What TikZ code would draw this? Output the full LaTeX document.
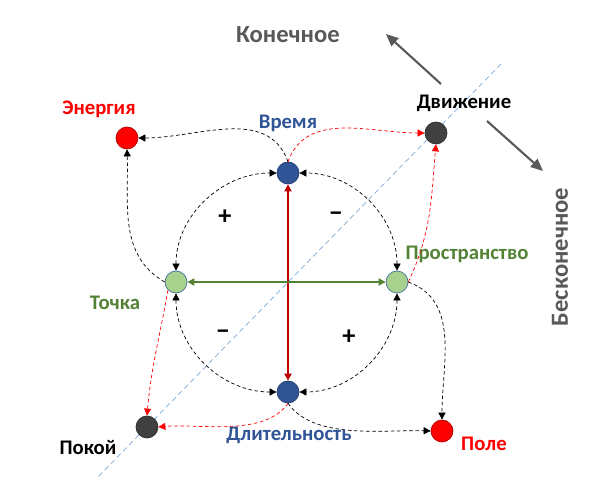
\documentclass[tikz,border=0pt]{standalone}
\usepackage{fontspec}
\setmainfont{Carlito}
\usetikzlibrary{arrows.meta}
\tikzset{>={Stealth[length=4pt,width=4pt,inset=0pt]}}
\definecolor{tblue}{HTML}{2F5597}
\definecolor{tgreen}{HTML}{548235}
\definecolor{lgreen}{HTML}{A9D18E}
\definecolor{edge}{HTML}{41719C}
\definecolor{dgray}{HTML}{404040}
\definecolor{tgray}{HTML}{595959}
\definecolor{dred}{HTML}{C00000}
\definecolor{diag}{HTML}{7FAAD6}

\begin{document}
\begin{tikzpicture}[x=0.02cm, y=-0.02cm,
    dot/.style={circle, minimum size=0.44cm, inner sep=0pt, draw=#1!70!black, thin, fill=#1},
    gdot/.style={circle, minimum size=0.44cm, inner sep=0pt, draw=edge, thin, fill=lgreen},
    lbl/.style={font=\bfseries\fontsize{11.8}{14}\selectfont},
    sign/.style={font=\bfseries\fontsize{15}{17}\selectfont},
    big/.style={font=\bfseries\fontsize{14}{16}\selectfont, text=tgray},
    link/.style={->, thin, dash pattern=on 2pt off 1.5pt},
    arc/.style={<->, thin, dash pattern=on 2pt off 1.5pt}]
    \useasboundingbox (0,0) rectangle (600,500);

    % diagonal
    \coordinate (d1) at (501,64);
    \coordinate (d2) at (96,479);
    \draw [diag, thin, dash pattern=on 3pt off 2pt] (d1) -- (d2);

    % nodes
    \node [dot=red]   (energy)   at (127,138) {};
    \node [dot=tblue] (time)     at (288,173) {};
    \node [dot=dgray] (motion)   at (436,133) {};
    \node [gdot]      (point)    at (176,282) {};
    \node [gdot]      (space)    at (397,282) {};
    \node [dot=tblue] (duration) at (288,392) {};
    \node [dot=dgray] (rest)     at (147,427) {};
    \node [dot=red]   (field)    at (442,431) {};

    % labels
    \node [big] at (288,35) {Конечное};
    \node [big, rotate=90] at (560,257) {Бесконечное};
    \node [lbl, text=red]    at (99,109)  {Энергия};
    \node [lbl, text=tblue]  at (288,123) {Время};
    \node [lbl]              at (464,103) {Движение};
    \node [lbl, text=tgreen] at (467,254) {Пространство};
    \node [lbl, text=tgreen] at (115,303) {Точка};
    \node [lbl, text=tblue]  at (289,435) {Длительность};
    \node [lbl]              at (88,448)  {Покой};
    \node [lbl, text=red]    at (484,444) {Поле};
    \node [sign] at (225,217) {+};
    \node [sign] at (336,217) {−};
    \node [sign] at (223,335) {−};
    \node [sign] at (349,337) {+};

    % finite / infinite arrows
    \coordinate (k1) at (441,84);
    \coordinate (k2) at (386,34);
    \coordinate (b1) at (487,121);
    \coordinate (b2) at (543,171);
    \draw [->, tgray, line width=1.2pt, >={Stealth[length=7pt,width=6pt,inset=0pt]}] (k1) -- (k2);
    \draw [->, tgray, line width=1.2pt, >={Stealth[length=7pt,width=6pt,inset=0pt]}] (b1) -- (b2);

    % main axes
    \draw [<->, dred, line width=1.2pt] (time) -- (duration);
    \draw [<->, tgreen, line width=1.2pt] (point) -- (space);

    % circle
    \draw [arc] (point.north) to[out=90, in=180] (time.west);
    \draw [arc] (space.north) to[out=90, in=0] (time.east);
    \draw [arc] (point.south) to[out=-90, in=180] (duration.west);
    \draw [arc] (space.south) to[out=-90, in=0] (duration.east);

    % outer links
    \draw [link] (time.north) to[out=110, in=0] (energy.east);
    \draw [link, red] (time.north) to[out=70, in=180] (motion.west);
    \draw [link] (point.west) to[out=150, in=-88] (energy.south);
    \draw [link, red] (point.south west) to[out=-100, in=85] (rest.north);
    \draw [link, red] (space.east) to[out=65, in=-95] (motion.south);
    \draw [link] (space.east) to[out=-20, in=90] (field.north);
    \draw [link, red] (duration.south) to[out=-125, in=5, looseness=0.8] (rest.east);
    \draw [link] (duration.south) to[out=-55, in=178, looseness=0.8] (field.west);
\end{tikzpicture}
\end{document}
